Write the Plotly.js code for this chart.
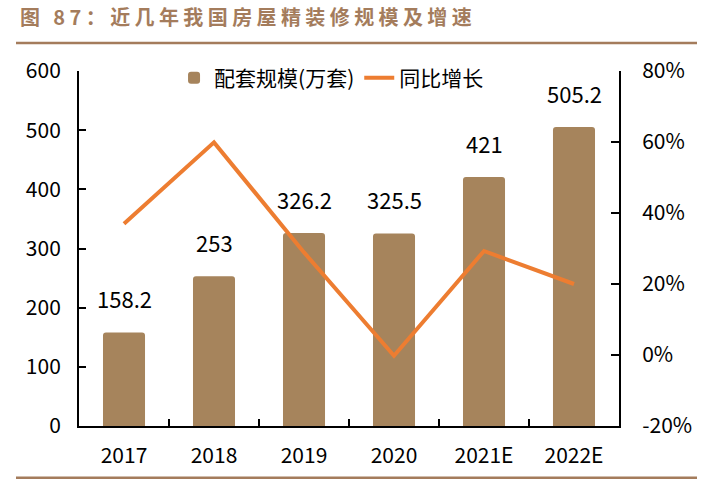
<!DOCTYPE html>
<html>
<head>
<meta charset="utf-8">
<script src="https://cdn.plot.ly/plotly-3.0.1.min.js"></script>
<style>
html,body{margin:0;padding:0;background:#fff;}
#chart{width:712px;height:481px;}
.gtitle{letter-spacing:4.4px;}
</style>
</head>
<body>
<div id="chart"></div>
<script>
const categories = ['2017', '2018', '2019', '2020', '2021E', '2022E'];
const scaleValues = [158.2, 253, 326.2, 325.5, 421, 505.2];
const growthValues = [37.0, 59.9, 28.9, -0.2, 29.3, 20.0];
const leftTicks = [0, 100, 200, 300, 400, 500, 600];
const rightTicks = [-20, 0, 20, 40, 60, 80];

const FONT = '"Noto Sans CJK SC", "Noto Sans", sans-serif';
const BAR = '#A6845C';
const LINE = '#ED7D31';
const BROWN = '#A47C5C';

const traces = [
  {
    type: 'bar', name: '配套规模(万套)', x: categories, y: scaleValues,
    marker: {color: BAR, cornerradius: 3}, yaxis: 'y', hoverinfo: 'skip'
  },
  {
    type: 'scatter', mode: 'lines', name: '同比增长', x: categories, y: growthValues,
    line: {color: LINE, width: 4}, yaxis: 'y2', hoverinfo: 'skip'
  }
];

const annotations = categories.map((c, i) => ({
  x: i, y: scaleValues[i], xref: 'x', yref: 'y', text: String(scaleValues[i]),
  showarrow: false, yanchor: 'bottom', yshift: 16,
  font: {family: FONT, size: 22, color: '#000'}
}));

const layout = {
  width: 712, height: 481,
  margin: {l: 79, r: 93, t: 71, b: 54.7, pad: 0},
  paper_bgcolor: '#fff', plot_bgcolor: '#fff',
  font: {family: FONT, size: 21, color: '#000'},
  title: {
    text: '<b>图 87：近几年我国房屋精装修规模及增速</b>',
    x: 20/712, xref: 'container', xanchor: 'left',
    y: 1 - 18/481, yref: 'container', yanchor: 'middle',
    font: {family: FONT, size: 20, color: BROWN}
  },
  showlegend: true,
  legend: {
    orientation: 'h', x: 0.176, xanchor: 'left', y: 0.98, yanchor: 'middle',
    bgcolor: 'rgba(0,0,0,0)', font: {family: FONT, size: 21, color: '#000'},
    traceorder: 'normal'
  },
  bargap: 0.533,
  xaxis: {
    type: 'category', categoryorder: 'array', categoryarray: categories,
    range: [-0.5, 5.5], autorange: false,
    showline: true, linecolor: '#000', linewidth: 2,
    ticks: 'inside', tickson: 'boundaries', ticklen: 7, tickwidth: 2, tickcolor: '#000',
    showgrid: false, zeroline: false, tickfont: {family: FONT, size: 21, color: '#000'},
    ticklabelstandoff: 10, fixedrange: true
  },
  yaxis: {
    range: [0, 600], autorange: false, tickvals: leftTicks, ticktext: leftTicks.map(String),
    showline: true, linecolor: '#000', linewidth: 2,
    ticks: 'inside', ticklen: 7, tickwidth: 2, tickcolor: '#000',
    showgrid: false, zeroline: false, tickfont: {family: FONT, size: 21, color: '#000'},
    ticklabelstandoff: 12, fixedrange: true
  },
  yaxis2: {
    overlaying: 'y', side: 'right', anchor: 'x',
    range: [-20, 80], autorange: false, tickvals: rightTicks, ticktext: rightTicks.map(v => v + '%'),
    showline: true, linecolor: '#000', linewidth: 2,
    ticks: 'inside', ticklen: 8, tickwidth: 2, tickcolor: '#000',
    showgrid: false, zeroline: false, tickfont: {family: FONT, size: 21, color: '#000'},
    ticklabelstandoff: 17, fixedrange: true
  },
  shapes: [
    {type: 'line', xref: 'paper', yref: 'paper', x0: (16-79)/540, x1: (697-79)/540,
     y0: 1 + (71-43)/355.3, y1: 1 + (71-43)/355.3, line: {color: BROWN, width: 2.5}},
    {type: 'line', xref: 'paper', yref: 'paper', x0: (16-79)/540, x1: (697-79)/540,
     y0: (426.3-478)/355.3, y1: (426.3-478)/355.3, line: {color: BROWN, width: 2.5}}
  ],
  annotations: annotations
};

Plotly.newPlot('chart', traces, layout, {staticPlot: true, displayModeBar: false});
</script>
</body>
</html>
